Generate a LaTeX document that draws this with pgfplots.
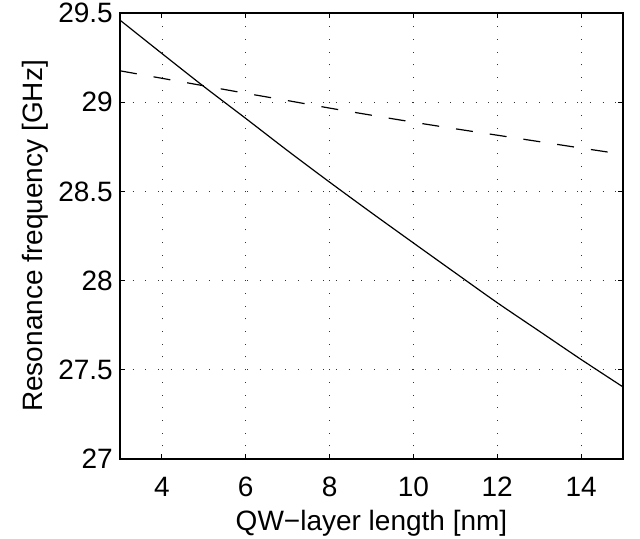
\documentclass[border=0pt]{standalone}
\usepackage{fontspec}
\setmainfont{Liberation Sans}
\usepackage{pgfplots}
\pgfplotsset{compat=1.18}

\pgfplotstableread{
x     f
3     29.460
4     29.273
5     29.088
6     28.909
7     28.728
8     28.552
9     28.380
10    28.211
11    28.043
12    27.876
13    27.717
14    27.558
15    27.404
}\solidtab

\pgfplotstableread{
x     f
3     29.176
4     29.134
5     29.092
6     29.050
7     29.009
8     28.967
9     28.927
10    28.888
11    28.851
12    28.815
13    28.779
14    28.743
15    28.708
}\dashtab

\begin{document}
\begin{tikzpicture}
\path[use as bounding box] (-120bp,-80bp) rectangle (520bp,459bp);
\begin{axis}[
    at={(0,0)}, anchor=south west,
    scale only axis,
    width=503bp, height=446bp,
    xmin=3, xmax=15, ymin=27, ymax=29.5,
    xtick={4,6,8,10,12,14},
    ytick={27,27.5,28,28.5,29,29.5},
    tick align=inside,
    major tick length=5bp,
    every tick/.style={black, line width=0.9bp},
    axis line style={line width=1.2bp},
    grid=major,
    major grid style={black!80, line width=0.8bp, dash pattern=on 1bp off 11.7bp},
    /pgf/number format/assume math mode=true,
    tick label style={font=\fontsize{28bp}{32bp}\selectfont},
    label style={font=\fontsize{28bp}{32bp}\selectfont},
    xticklabel style={anchor=base, yshift=-37bp},
    yticklabel style={inner sep=0pt, xshift=-7bp},
    xlabel={QW−layer length [nm]},
    ylabel={Resonance frequency [GHz]},
    xlabel style={at={(axis description cs:0.5,0)}, anchor=base, yshift=-71bp},
    ylabel style={at={(axis description cs:-0.155,0.5)}, anchor=base},
]
\addplot[black, line width=1.2bp, smooth] table[x=x, y=f] {\solidtab};
\addplot[black, line width=1.2bp, smooth, dash pattern=on 17bp off 17.1bp] table[x=x, y=f] {\dashtab};
\end{axis}
\end{tikzpicture}
\end{document}
